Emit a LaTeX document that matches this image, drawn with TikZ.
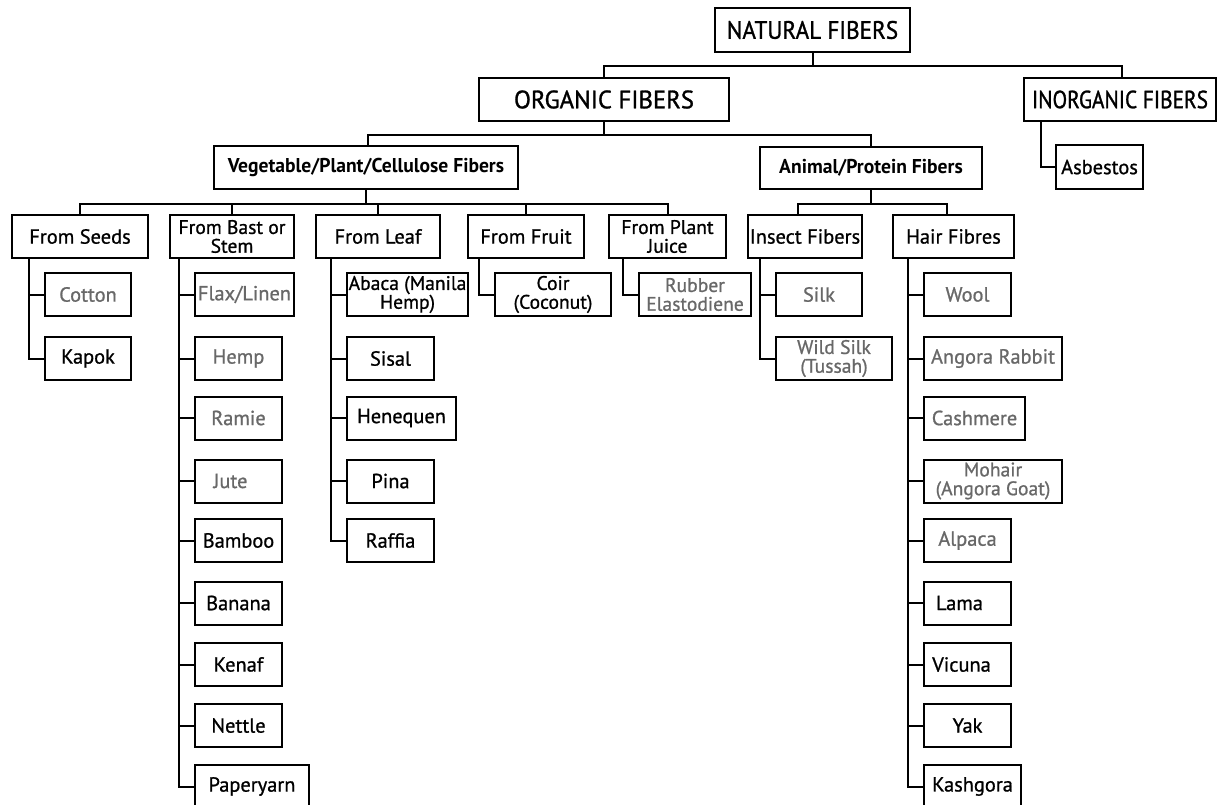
\documentclass[tikz,border=0pt]{standalone}
\usepackage{fontspec}
\setmainfont[FakeBold=0.9]{PT Sans}
\newfontfamily\natfont[FakeStretch=0.92,FakeBold=1.1]{PT Sans}
\newfontfamily\orgfont[FakeStretch=0.98,FakeBold=1.1]{PT Sans}
\newfontfamily\inorgfont[FakeStretch=0.86,FakeBold=1.1]{PT Sans}
\newfontfamily\semifont[FakeStretch=0.98]{PT Sans Bold}
\definecolor{txtgray}{RGB}{104,104,104}
\lineskiplimit=-20pt
\tikzset{
  box/.style={draw, line width=1pt, inner sep=0.5pt, minimum height=21.5pt, align=center,
    font=\fontsize{10.2}{8.6}\selectfont, text=black},
  two/.style={font=\fontsize{9.8}{9.4}\selectfont},
  gr/.style={text=txtgray},
  bw/.style={minimum width=#1pt},
  semi/.style={font=\semifont\fontsize{10}{11}\selectfont},
  conn/.style={draw, line width=1pt},
}
\begin{document}
\begin{tikzpicture}[x=0.5pt, y=-0.5pt]
\useasboundingbox (0,0) rectangle (1218,804);
% top levels
\node[box, font=\natfont\fontsize{12.6}{14}\selectfont, bw=97.5, minimum height=22pt] (nat) at (812.5,30) {NATURAL FIBERS};
\node[box, font=\orgfont\fontsize{12.6}{14}\selectfont, bw=125] (org) at (604,99.5) {ORGANIC FIBERS};
\node[box, font=\inorgfont\fontsize{12.4}{14}\selectfont, bw=96] (inorg) at (1120,99.5) {INORGANIC FIBERS};
\node[box, bw=43.5, minimum height=22pt] (asb) at (1099.5,167) {Asbestos};
\node[box, semi, bw=152] (veg) at (366,167.5) {Vegetable/Plant/Cellulose Fibers};
\node[box, semi, bw=111, minimum height=21pt] (ani) at (871,168) {Animal/Protein Fibers};
% third level
\node[box, bw=68] (seeds) at (80,236.5) {From Seeds};
\node[box, two, bw=62] (bast) at (232,236.5) {From Bast or\\Stem};
\node[box, bw=62] (leaf) at (378,236.5) {From Leaf};
\node[box, bw=58] (fruit) at (526,236.5) {From Fruit};
\node[box, two, bw=58.5] (juice) at (667.5,236.5) {From Plant\\Juice};
\node[box, bw=57] (insect) at (805,236.5) {Insect Fibers};
\node[box, bw=60.5] (hair) at (953.5,236.5) {Hair Fibres};
% seeds
\node[box, gr, bw=43] (cotton) at (88,294.5) {Cotton};
\node[box, bw=43] (kapok) at (88,358.5) {Kapok};
% bast
\node[box, gr, bw=49.5] (flax) at (244.5,294.5) {Flax/Linen};
\node[box, gr, bw=43.5] (hemp) at (238.5,358.5) {Hemp};
\node[box, gr, bw=43.5] (ramie) at (238.5,418) {Ramie};
\node[box, gr, bw=43.5] (jute) at (238.5,481) {\hspace*{-8pt}Jute};
\node[box, bw=43.5] (bamboo) at (238.5,540.5) {Bamboo};
\node[box, bw=43.5] (banana) at (238.5,603) {Banana};
\node[box, bw=43.5] (kenaf) at (238.5,664.5) {Kenaf};
\node[box, bw=43.5] (nettle) at (238.5,725.5) {Nettle};
\node[box, bw=57] (paper) at (252,786.5) {Paperyarn};
% leaf
\node[box, two, bw=60.5] (abaca) at (407.5,294.5) {Abaca (Manila\\Hemp)};
\node[box, bw=43.5] (sisal) at (390.5,358.5) {Sisal};
\node[box, bw=54.5] (henequen) at (401.5,418) {Henequen};
\node[box, bw=43.5] (pina) at (390.5,481) {Pina};
\node[box, bw=43.5] (raffia) at (390.5,540.5) {Raffia};
% fruit, juice
\node[box, two, bw=58] (coir) at (553,294.5) {Coir\\(Coconut)};
\node[box, two, gr, bw=56] (rubber) at (695,294.5) {Rubber\\Elastodiene};
% insect
\node[box, gr, bw=43] (silk) at (819,294.5) {Silk};
\node[box, two, gr, bw=58] (wildsilk) at (834,358.5) {Wild Silk\\(Tussah)};
% hair
\node[box, gr, bw=43.5] (wool) at (967.5,294.5) {Wool};
\node[box, gr, bw=69] (angora) at (993,358.5) {Angora Rabbit};
\node[box, gr, bw=50.5] (cashmere) at (974.5,418) {Cashmere};
\node[box, two, gr, bw=69] (mohair) at (993,481) {Mohair\\(Angora Goat)};
\node[box, gr, bw=43.5] (alpaca) at (967.5,540.5) {Alpaca};
\node[box, bw=43.5] (lama) at (967.5,603) {\hspace*{-8pt}Lama};
\node[box, bw=43.5] (vicuna) at (967.5,664.5) {\hspace*{-6pt}Vicuna};
\node[box, bw=43.5] (yak) at (967.5,725.5) {Yak};
\node[box, bw=48.5] (kashgora) at (972.5,786.5) {Kashgora};
% connectors: top
\draw[conn] (nat.south) -- ++(0,13) -| (org.north);
\draw[conn] (nat.south) ++(0,13) -| ([xshift=1pt]inorg.north);
\draw[conn] (org.south) -- ++(0,13) -| ([xshift=1pt]veg.north);
\draw[conn] (org.south) ++(0,13) -| (ani.north);
\foreach \c in {seeds,bast,leaf,fruit,juice}{
  \draw[conn] (veg.south) -- ++(0,14) -| (\c.north);
}
\draw[conn] (ani.south) -- ++(0,14) -| ([xshift=-3.5pt]insect.north);
\draw[conn] (ani.south) ++(0,14) -| ([xshift=-3.5pt]hair.north);
% asbestos
\draw[conn] (asb.west) -- ++(-14,0) coordinate (sA) -- (sA |- inorg.south);
% seeds
\draw[conn] (kapok.west) -- ++(-15,0) coordinate (sS) -- (sS |- seeds.south);
\draw[conn] (cotton.west) -- ++(-15,0);
% bast
\draw[conn] (paper.west) -- ++(-15,0) coordinate (sB) -- (sB |- bast.south);
\foreach \c in {flax,hemp,ramie,jute,bamboo,banana,kenaf,nettle}{
  \draw[conn] (\c.west) -- ++(-15,0);
}
% leaf
\draw[conn] (raffia.west) -- ++(-15,0) coordinate (sL) -- (sL |- leaf.south);
\foreach \c in {abaca,sisal,henequen,pina}{
  \draw[conn] (\c.west) -- ++(-15,0);
}
% fruit, juice
\draw[conn] (coir.west) -- ++(-15,0) coordinate (sF) -- (sF |- fruit.south);
\draw[conn] (rubber.west) -- ++(-15,0) coordinate (sJ) -- (sJ |- juice.south);
% insect
\draw[conn] (wildsilk.west) -- ++(-15,0) coordinate (sI) -- (sI |- insect.south);
\draw[conn] (silk.west) -- ++(-15,0);
% hair
\draw[conn] (kashgora.west) -- ++(-15,0) coordinate (sH) -- (sH |- hair.south);
\foreach \c in {wool,angora,cashmere,mohair,alpaca,lama,vicuna,yak}{
  \draw[conn] (\c.west) -- ++(-15,0);
}
\end{tikzpicture}
\end{document}
